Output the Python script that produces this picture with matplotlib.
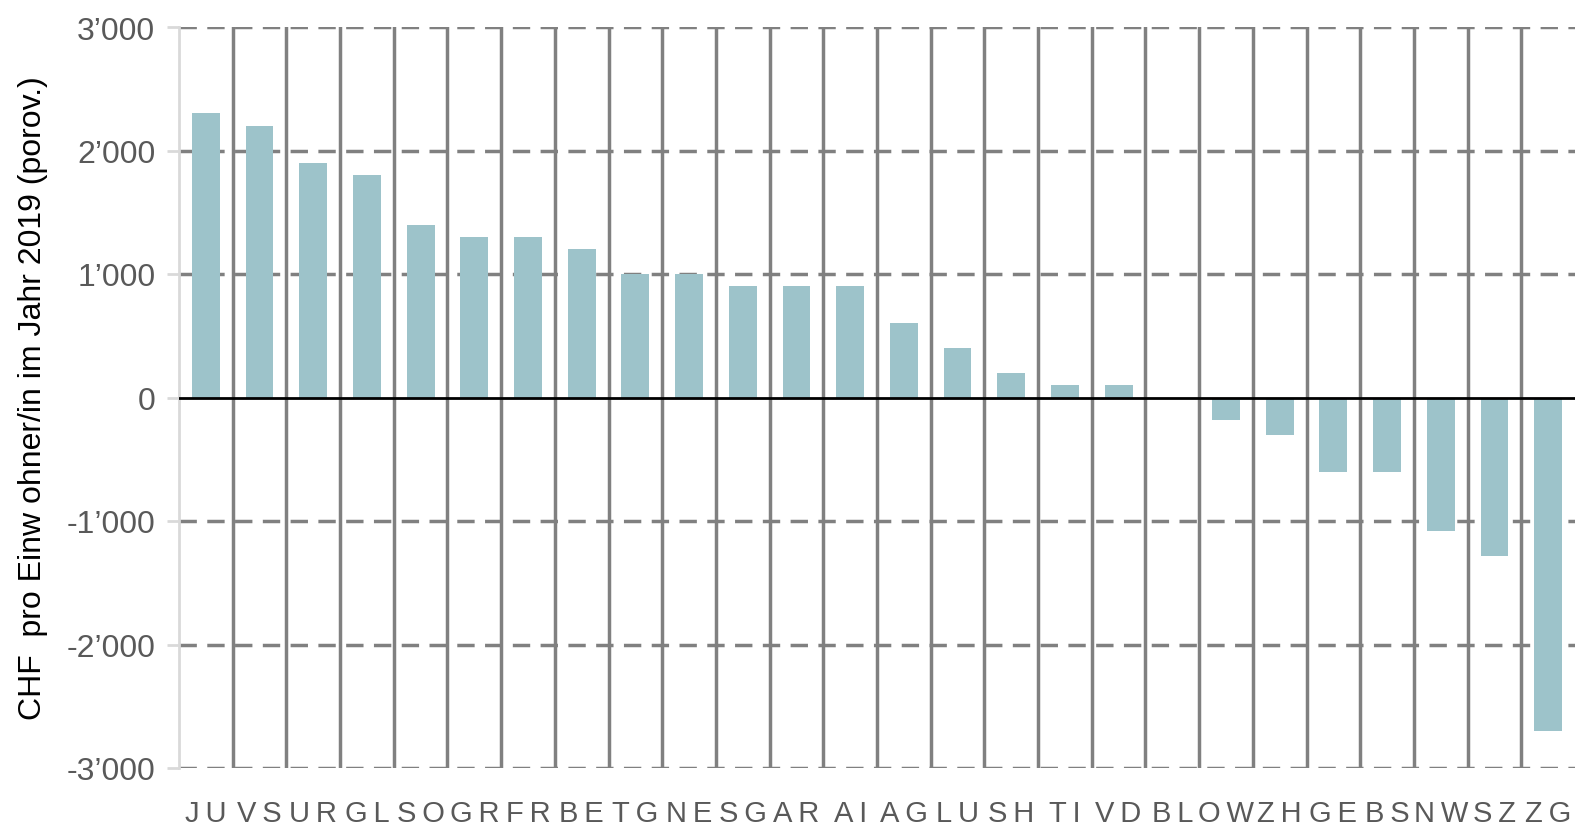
import numpy as np
import matplotlib as mpl
import matplotlib.pyplot as plt
from matplotlib import font_manager as fm

mpl.rcParams['font.family'] = ['Liberation Sans', 'DejaVu Sans']

cantons = ["JU", "VS", "UR", "GL", "SO", "GR", "FR", "BE", "TG", "NE", "SG", "AR", "AI",
           "AG", "LU", "SH", "TI", "VD", "BL", "OW", "ZH", "GE", "BS", "NW", "SZ", "ZG"]
values = [2300, 2200, 1900, 1800, 1400, 1300, 1300, 1200, 1000, 1000, 900, 900, 900,
          600, 400, 200, 100, 100, 0, -180, -300, -600, -600, -1080, -1280, -2700]
yticks = [-3000, -2000, -1000, 0, 1000, 2000, 3000]
ytick_labels = ["-3\u2019000", "-2\u2019000", "-1\u2019000", "0", "1\u2019000", "2\u2019000", "3\u2019000"]

# narrow font for the canton codes if there is one
names = {f.name for f in fm.fontManager.ttflist}
if 'Liberation Sans Narrow' in names:
    xfont, xsize, sep = ['Liberation Sans Narrow', 'DejaVu Sans'], 24, " "
else:
    xfont, xsize, sep = ['Liberation Sans', 'DejaVu Sans'], 21, "\u2009"

fig = plt.figure(figsize=(15.78, 8.29), dpi=100)
ax = fig.add_axes([179/1578, 60/829, 1396/1578, 741/829])

x = np.arange(len(cantons)) + 0.5
ax.bar(x, values, width=0.52, color='#9DC3CA', zorder=3)

# separators between cantons
for b in range(1, len(cantons)):
    ax.axvline(b, color='#808080', lw=2.5, zorder=2)

# dashed grid
for t in yticks:
    if t != 0:
        ax.axhline(t, color='#808080', lw=2.5, ls=(0, (5, 3)), zorder=1)
ax.axhline(0, color='black', lw=2, zorder=4)

ax.set_xlim(0, len(cantons))
ax.set_ylim(-3000, 3000)

ax.set_yticks(yticks)
ax.set_yticklabels(ytick_labels)
ax.set_xticks(x)
ax.set_xticklabels([sep.join(c) for c in cantons], family=xfont)

ax.tick_params(axis='y', colors='#D9D9D9', labelcolor='#595959', labelsize=23,
               length=9, width=2, pad=8)
ax.tick_params(axis='x', length=0, labelcolor='#595959', labelsize=xsize, pad=22)

for s in ['top', 'right', 'bottom']:
    ax.spines[s].set_visible(False)
ax.spines['left'].set_color('#D9D9D9')
ax.spines['left'].set_linewidth(2)

ax.set_ylabel("CHF  pro Einw ohner/in im Jahr 2019 (porov.)", fontsize=23, color='black')
ax.yaxis.set_label_coords(-0.094, 0.5)

fig.savefig("out.png", dpi=100)
